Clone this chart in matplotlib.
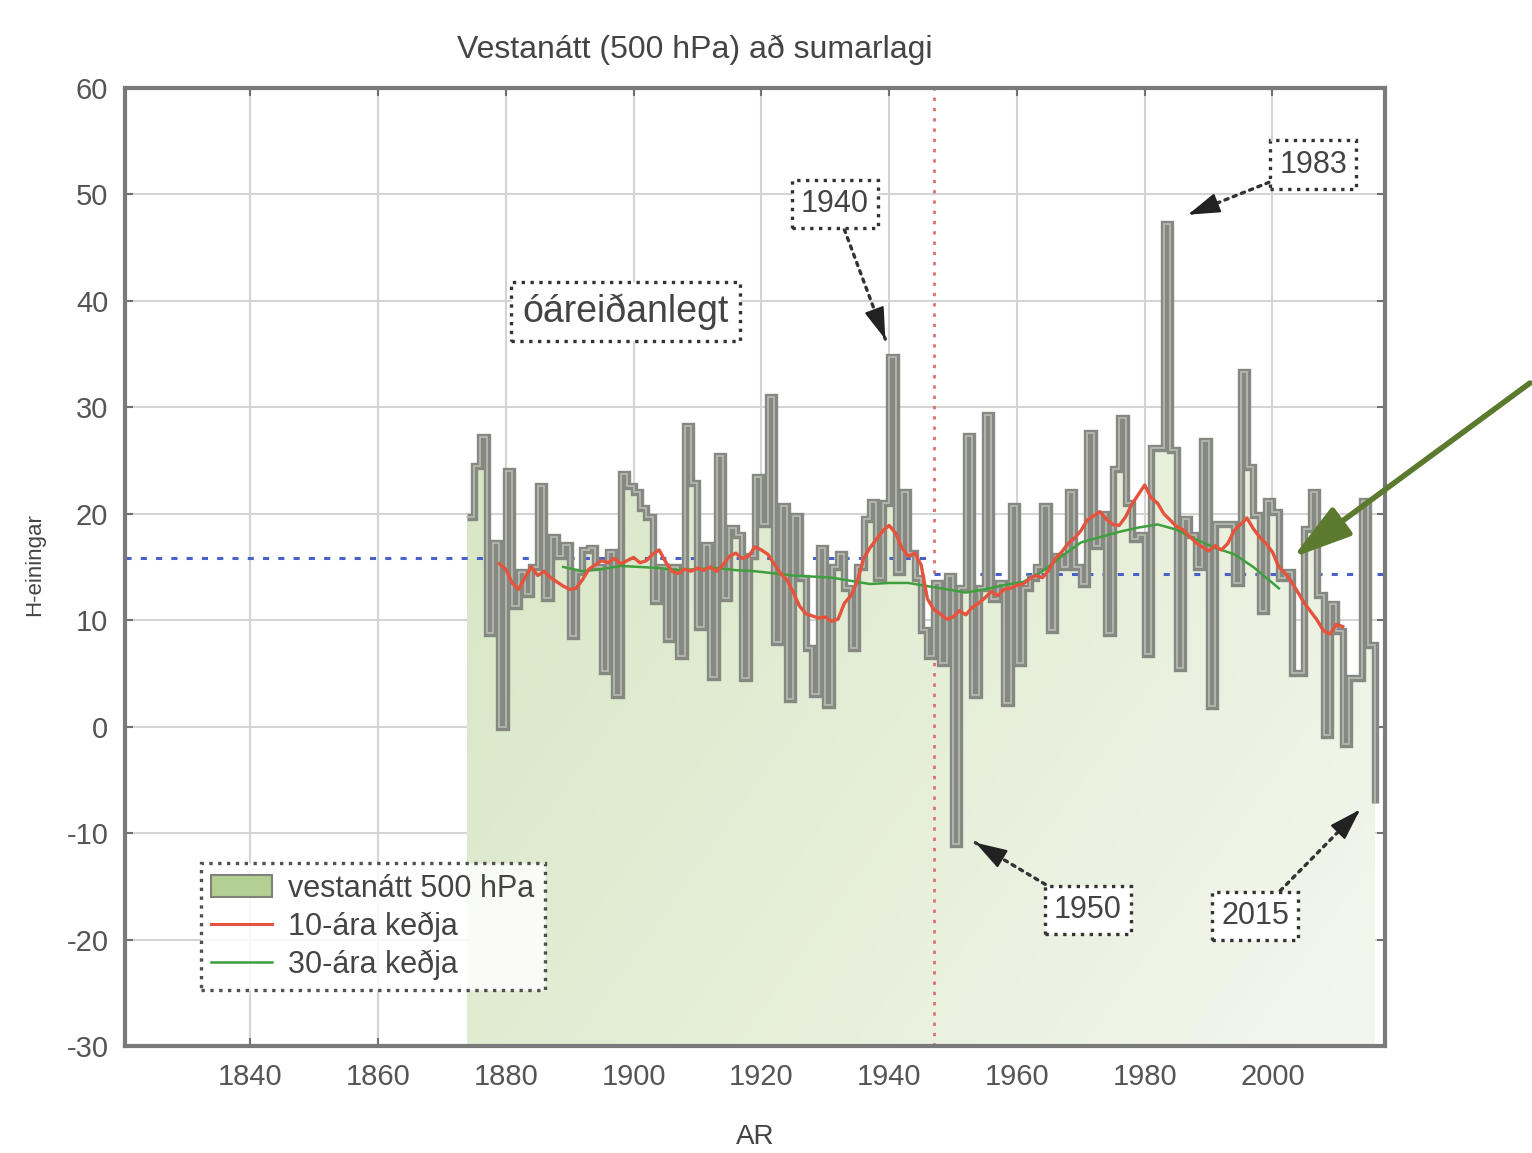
import numpy as np
import matplotlib.pyplot as plt
from matplotlib.patches import Patch
from matplotlib.lines import Line2D
from matplotlib.colors import LinearSegmentedColormap

plt.rcParams['font.family'] = ['Liberation Sans', 'DejaVu Sans']
plt.rcParams['axes.unicode_minus'] = False

# summer westerly index (500 hPa), one value per year
first_year = 1874
westerly = [19.7, 24.5, 27.2, 8.8, 17.3, 0.0, 24.0, 11.3, 14.5, 12.5,
            15.0, 22.6, 12.1, 17.8, 16.0, 17.1, 8.5, 14.5, 16.6, 16.8,
            15.0, 5.2, 16.4, 3.0, 23.7, 22.6, 22.0, 20.5, 19.7, 11.8,
            15.0, 8.2, 15.0, 6.6, 28.2, 22.9, 9.4, 17.1, 4.7, 25.4,
            12.1, 18.7, 18.0, 4.6, 16.0, 23.5, 19.0, 31.0, 8.0, 20.7,
            2.6, 19.8, 14.0, 7.4, 3.1, 16.8, 2.0, 15.0, 16.2, 13.0,
            7.4, 15.0, 19.5, 21.1, 14.0, 21.0, 34.7, 14.5, 22.0, 16.3,
            14.0, 9.1, 6.6, 13.5, 6.0, 14.2, -11.0, 13.0, 27.3, 3.0,
            13.0, 29.3, 12.0, 13.5, 2.2, 20.7, 6.0, 13.0, 14.0, 15.0,
            20.7, 9.1, 16.0, 15.0, 22.0, 15.0, 13.4, 27.6, 17.0, 20.0,
            8.8, 24.2, 29.0, 21.0, 17.6, 18.0, 6.8, 26.2, 26.2, 47.2,
            26.0, 5.5, 19.5, 18.0, 15.0, 26.8, 1.9, 19.0, 19.0, 19.0,
            13.5, 33.3, 24.4, 19.9, 10.9, 21.2, 20.2, 14.0, 14.5, 5.0,
            5.0, 18.6, 22.0, 12.4, -0.8, 11.5, 9.0, -1.6, 4.6, 4.6,
            21.2, 7.7, -7.2]
years = np.arange(first_year, first_year + len(westerly))

# 10-year running mean (red)
run10_start = 1879
run10 = [15.3, 14.8, 13.5, 12.9, 14.0, 15.0, 14.2, 14.6, 14.0, 13.6,
         13.2, 12.9, 13.0, 13.8, 14.8, 15.2, 15.6, 15.4, 15.8, 15.3,
         15.6, 15.9, 15.4, 15.6, 16.2, 16.6, 15.5, 14.6, 14.4, 14.8,
         14.6, 14.9, 14.7, 15.0, 14.6, 15.2, 16.0, 16.3, 15.8, 16.0,
         16.9, 16.6, 16.2, 15.3, 14.4, 13.8, 12.6, 11.3, 10.6, 10.4,
         10.2, 10.3, 9.9, 10.1, 11.6, 12.3, 13.6, 15.8, 16.8, 17.6,
         18.4, 18.9, 18.2, 16.8, 16.0, 16.3, 15.2, 12.0, 11.0, 10.6,
         10.1, 10.3, 10.9, 10.5, 11.2, 11.6, 12.1, 12.7, 12.3, 12.9,
         13.0, 13.3, 13.4, 13.9, 14.2, 14.0, 14.7, 15.8, 16.4, 17.2,
         17.7, 18.4, 19.4, 19.8, 20.2, 19.5, 19.0, 18.9, 19.7, 20.9,
         21.8, 22.7, 21.5, 21.0, 20.0, 19.4, 18.8, 18.5, 17.9, 17.3,
         16.9, 16.5, 17.0, 16.6, 17.2, 18.4, 19.0, 19.6, 18.6, 17.8,
         17.2, 16.4, 15.0, 14.4, 13.6, 12.6, 11.6, 10.8, 10.0, 9.0,
         8.7, 9.6, 9.4]
run10_years = np.arange(run10_start, run10_start + len(run10))

# 30-year running mean (green)
run30_years = [1889, 1892, 1895, 1898, 1901, 1904, 1907, 1910, 1913, 1916,
               1919, 1922, 1925, 1928, 1931, 1934, 1937, 1940, 1943, 1946,
               1949, 1952, 1955, 1958, 1961, 1964, 1967, 1970, 1973, 1976,
               1979, 1982, 1985, 1988, 1991, 1994, 1997, 2000, 2001]
run30 = [15.0, 14.6, 14.8, 15.1, 15.0, 14.9, 14.7, 14.8, 14.9, 14.7,
         14.6, 14.4, 14.2, 14.1, 14.0, 13.7, 13.4, 13.5, 13.5, 13.2,
         12.9, 12.6, 12.9, 13.3, 13.6, 14.6, 16.0, 17.3, 17.8, 18.3,
         18.7, 19.0, 18.5, 17.6, 16.8, 16.2, 15.0, 13.5, 13.0]

split_year = 1947
mean_before = 15.8
mean_after = 14.3

fig = plt.figure(figsize=(15.32, 11.53), dpi=100)
ax = fig.add_axes([0.0816, 0.0928, 0.8224, 0.8309])
x0, x1 = 1820.4, 2017.6

# gradient fill under the step curve
fill = ax.fill_between(years, -30, westerly, step='post',
                       facecolor='none', edgecolor='none')
gx, gy = np.meshgrid(np.linspace(0, 1, 300), np.linspace(0, 1, 300))
shade = 0.6 * gx + 0.4 * (1 - gy)
cmap = LinearSegmentedColormap.from_list('g', ['#d4e4bf', '#f4f7ee'])
im = ax.imshow(shade, cmap=cmap, origin='lower', aspect='auto',
               extent=[years[0], years[-1], -30, 50], zorder=1)
im.set_clip_path(fill.get_paths()[0], transform=ax.transData)

ax.step(years, westerly, where='post', color='#868981', lw=5.3,
        solid_joinstyle='miter', solid_capstyle='butt', zorder=3)
ax.step(years, westerly, where='post', color='#b9bcb2', lw=1.2,
        solid_joinstyle='miter', zorder=4)

ax.plot(run30_years, run30, color='#3f9f3f', lw=1.8, zorder=5)
ax.plot(run10_years, run10, color='#e5533d', lw=2.4, zorder=6)

ax.axvline(split_year, color='#e07070', ls=(0, (1.2, 2.5)), lw=2, zorder=2)
ax.hlines(mean_before, x0, split_year, color='#4a62c8', ls=(0, (2, 3)),
          lw=2.2, zorder=2)
ax.hlines(mean_after, split_year, x1, color='#4a62c8', ls=(0, (2, 3)),
          lw=2.2, zorder=2)

ax.set_xlim(x0, x1)
ax.set_ylim(-30, 60)
ax.set_xticks(range(1840, 2001, 20))
ax.set_yticks(range(-30, 61, 10))
ax.grid(color='#d4d4d4', lw=1.5, zorder=0)
ax.set_axisbelow(True)
ax.tick_params(direction='in', length=6, width=1.5, color='#707070',
               labelcolor='#555555', labelsize=21, top=True, right=True,
               pad=12)
for s in ax.spines.values():
    s.set_color('#7a7a7a')
    s.set_linewidth(3)

fig.text(695 / 1532, 1 - 50 / 1153, 'Vestanátt (500 hPa) að sumarlagi',
         ha='center', va='center', fontsize=23, color='#444444')
fig.text(755 / 1532, 1 - 1137 / 1153, 'AR', ha='center', va='center',
         fontsize=20, color='#444444')
fig.text(35 / 1532, 1 - 565 / 1153, 'H-einingar', ha='center', va='center',
         rotation=90, fontsize=16, color='#444444')

box = dict(boxstyle='square,pad=0.3', fc='white', ec='#333333', ls=':', lw=2.4)
ax.text(1898.7, 39.0, 'óáreiðanlegt', ha='center', va='center', fontsize=27,
        color='#444444', bbox=box, zorder=8)
notes = [('1940', (1939.4, 36.4), (1931.5, 49.1)),
         ('1983', (1986.8, 48.1), (2006.4, 52.8)),
         ('1950', (1953.5, -10.9), (1971.1, -17.2)),
         ('2015', (2013.7, -7.8), (1997.3, -17.8))]
for label, tip, pos in notes:
    ax.annotate(label, xy=tip, xytext=pos, ha='center', va='center',
                fontsize=22, color='#444444', bbox=box, zorder=8,
                arrowprops=dict(arrowstyle='-', color='#333333', ls=':',
                                lw=2.4, shrinkA=0, shrinkB=0))
    back = (tip[0] + 0.15 * (pos[0] - tip[0]), tip[1] + 0.15 * (pos[1] - tip[1]))
    ax.annotate('', xy=tip, xytext=back, zorder=8,
                arrowprops=dict(arrowstyle='-|>,head_length=1.1,head_width=0.35',
                                color='#222222', lw=1.5, mutation_scale=18,
                                shrinkA=0, shrinkB=0))

# big green pointer from outside the plot
ax.annotate('', xy=(2003.2, 15.9), xytext=(1530, 1153 - 383),
            textcoords='figure pixels', annotation_clip=False,
            arrowprops=dict(arrowstyle='-|>,head_length=2.4,head_width=0.7',
                            color='#5b7a2e', lw=4, mutation_scale=15,
                            shrinkA=0, shrinkB=0), zorder=9)

handles = [Patch(facecolor='#b3cf94', edgecolor='#7e827a', lw=1.5),
           Line2D([], [], color='#e5533d', lw=2.2),
           Line2D([], [], color='#3f9f3f', lw=1.8)]
labels = ['vestanátt 500 hPa', '10-ára keðja', '30-ára keðja']
leg = ax.legend(handles, labels, loc='lower left', bbox_to_anchor=(0.06, 0.058),
                fontsize=22, fancybox=False, borderaxespad=0, handlelength=2.0,
                handletextpad=0.5, labelspacing=0.25, borderpad=0.35,
                framealpha=0.85)
leg.get_frame().set_edgecolor('#333333')
leg.get_frame().set_linestyle(':')
leg.get_frame().set_linewidth(2.4)
for t in leg.get_texts():
    t.set_color('#444444')
leg.set_zorder(8)

fig.savefig('out.png', dpi=100)
